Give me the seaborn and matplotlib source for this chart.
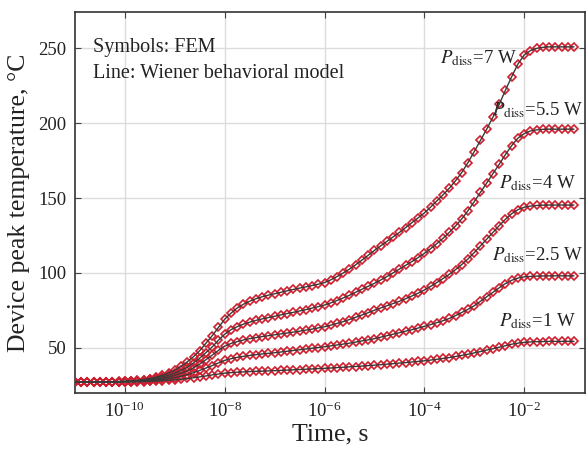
import numpy as np
import pandas as pd
import matplotlib
matplotlib.use("Agg")
import matplotlib.pyplot as plt
import seaborn as sns
from matplotlib.ticker import FixedLocator, NullLocator, LogFormatterMathtext

# ---- data ----
log_time = [-11.0,
            -10.875, -10.75, -10.625, -10.5, -10.375, -10.25, -10.125, -10.0,
            -9.875, -9.75, -9.625, -9.5, -9.375, -9.25, -9.125, -9.0,
            -8.875, -8.75, -8.625, -8.5, -8.375, -8.25, -8.125, -8.0,
            -7.875, -7.75, -7.625, -7.5, -7.375, -7.25, -7.125, -7.0,
            -6.875, -6.75, -6.625, -6.5, -6.375, -6.25, -6.125, -6.0,
            -5.875, -5.75, -5.625, -5.5, -5.375, -5.25, -5.125, -5.0,
            -4.875, -4.75, -4.625, -4.5, -4.375, -4.25, -4.125, -4.0,
            -3.875, -3.75, -3.625, -3.5, -3.375, -3.25, -3.125, -3.0,
            -2.875, -2.75, -2.625, -2.5, -2.375, -2.25, -2.125, -2.0,
            -1.875, -1.75, -1.625, -1.5, -1.375, -1.25, -1.125, -1.0]

temp_7w = [27.0,
           27.0, 27.0, 27.0, 27.1, 27.2, 27.3, 27.4, 27.6,
           27.9, 28.2, 28.7, 29.3, 30.3, 31.5, 33.1, 35.0,
           37.6, 40.5, 44.0, 48.0, 53.0, 58.0, 63.5, 69.0,
           73.0, 76.5, 79.0, 81.0, 82.7, 84.0, 85.1, 86.0,
           87.0, 88.0, 88.9, 89.8, 90.6, 91.5, 92.4, 93.5,
           95.3, 97.5, 99.9, 102.5, 105.4, 108.5, 111.7, 115.0,
           118.0, 121.0, 124.0, 127.0, 130.2, 133.5, 136.7, 140.0,
           143.9, 148.0, 152.1, 156.5, 161.5, 167.0, 173.7, 181.0,
           188.5, 196.0, 204.0, 212.5, 222.0, 231.0, 239.5, 245.5,
           248.5, 250.0, 250.7, 251.0, 251.0, 251.0, 251.0, 251.0]

temp_5p5w = [27.0,
             27.0, 27.0, 27.0, 27.1, 27.1, 27.2, 27.3, 27.5,
             27.7, 28.0, 28.4, 28.9, 29.6, 30.5, 31.6, 33.0,
             34.8, 37.0, 39.8, 43.0, 46.7, 50.5, 55.0, 59.0,
             62.0, 64.0, 65.7, 67.0, 68.2, 69.2, 70.1, 71.0,
             71.9, 72.8, 73.6, 74.5, 75.4, 76.4, 77.4, 78.5,
             79.9, 81.5, 83.2, 85.0, 87.0, 89.0, 91.0, 93.0,
             95.2, 97.5, 100.0, 102.5, 105.0, 107.5, 110.2, 113.0,
             116.1, 119.5, 123.1, 127.0, 131.3, 136.0, 141.5, 147.5,
             153.8, 160.0, 166.3, 172.5, 179.0, 185.0, 190.0, 193.0,
             194.8, 195.5, 195.9, 196.0, 196.0, 196.0, 196.0, 196.0]

temp_4w = [27.0,
           27.0, 27.0, 27.0, 27.0, 27.0, 27.1, 27.2, 27.3,
           27.5, 27.7, 28.0, 28.4, 28.9, 29.6, 30.4, 31.5,
           32.9, 34.5, 36.5, 39.0, 42.0, 45.0, 48.2, 51.0,
           52.8, 54.0, 55.1, 56.0, 56.7, 57.4, 58.0, 58.6,
           59.2, 59.8, 60.4, 61.0, 61.7, 62.4, 63.2, 64.0,
           65.0, 66.2, 67.4, 68.8, 70.3, 71.8, 73.4, 75.0,
           76.5, 78.0, 79.5, 81.0, 82.7, 84.5, 86.4, 88.5,
           90.9, 93.5, 96.2, 99.0, 102.1, 105.5, 109.3, 113.5,
           118.0, 122.5, 127.0, 131.5, 135.8, 139.5, 142.2, 143.8,
           144.6, 145.0, 145.2, 145.3, 145.3, 145.3, 145.3, 145.3]

temp_2p5w = [27.0,
             27.0, 27.0, 27.0, 27.0, 27.0, 27.0, 27.1, 27.2,
             27.3, 27.5, 27.7, 28.0, 28.4, 28.8, 29.3, 30.0,
             30.9, 32.0, 33.3, 34.8, 36.4, 38.0, 39.8, 41.5,
             42.6, 43.5, 44.2, 44.8, 45.3, 45.8, 46.2, 46.6,
             47.1, 47.6, 48.1, 48.6, 49.1, 49.6, 50.1, 50.6,
             51.2, 51.8, 52.4, 53.0, 53.7, 54.5, 55.2, 56.0,
             57.0, 58.0, 59.0, 60.0, 61.0, 62.0, 63.1, 64.2,
             65.4, 66.7, 68.0, 69.5, 71.4, 73.5, 75.6, 78.0,
             81.0, 84.0, 87.0, 90.0, 92.8, 95.0, 96.5, 97.3,
             97.6, 97.8, 97.9, 98.0, 98.0, 98.0, 98.0, 98.0]

temp_1w = [27.0,
           27.0, 27.0, 27.0, 27.0, 27.0, 27.0, 27.0, 27.1,
           27.1, 27.2, 27.3, 27.5, 27.7, 27.9, 28.2, 28.5,
           28.9, 29.4, 29.9, 30.5, 31.1, 31.8, 32.4, 33.0,
           33.3, 33.6, 33.8, 34.0, 34.2, 34.3, 34.5, 34.6,
           34.8, 35.0, 35.2, 35.4, 35.6, 35.8, 36.0, 36.2,
           36.4, 36.7, 36.9, 37.2, 37.4, 37.7, 38.0, 38.3,
           38.6, 39.0, 39.3, 39.7, 40.0, 40.4, 40.8, 41.2,
           41.7, 42.2, 42.8, 43.4, 44.1, 44.8, 45.6, 46.5,
           47.4, 48.4, 49.3, 50.3, 51.3, 52.3, 53.0, 53.5,
           53.8, 54.0, 54.1, 54.2, 54.2, 54.2, 54.2, 54.2]

power_labels = ["7 W", "5.5 W", "4 W", "2.5 W", "1 W"]
series = [temp_7w, temp_5p5w, temp_4w, temp_2p5w, temp_1w]

# ---- styling ----
sns.set_style("ticks")
plt.rcParams["font.family"] = ["Liberation Serif", "DejaVu Serif"]
plt.rcParams["mathtext.fontset"] = "stix"

red = "#cc1f2f"
line_col = "#3a3a3a"

frames = []
for lab, vals in zip(power_labels, series):
    frames.append(pd.DataFrame({"time": 10.0 ** np.array(log_time),
                                "temp": vals, "power": lab}))
df = pd.concat(frames, ignore_index=True)

fig = plt.figure(figsize=(5.87, 4.49), dpi=100)
ax = fig.add_axes([75 / 587, 56 / 449, 510 / 587, 381.3 / 449])

sns.lineplot(data=df, x="time", y="temp", units="power", estimator=None,
             sort=False, color=red, linestyle="none", marker="D",
             markersize=4.3, markerfacecolor="none", markeredgecolor=red,
             markeredgewidth=1.2, ax=ax, legend=False, zorder=3)
sns.lineplot(data=df, x="time", y="temp", units="power", estimator=None,
             sort=False, color=line_col, linewidth=1.0, ax=ax,
             legend=False, zorder=4)

ax.set_xscale("log")
ax.set_xlim(1e-11, 10 ** -0.78)
ax.set_ylim(19.7, 274.5)
ax.xaxis.set_major_locator(FixedLocator([1e-10, 1e-8, 1e-6, 1e-4, 1e-2]))
ax.xaxis.set_minor_locator(NullLocator())
ax.xaxis.set_major_formatter(LogFormatterMathtext())
ax.set_yticks([50, 100, 150, 200, 250])
ax.grid(True, color="#dcdcdc", linewidth=1.0, zorder=0)
ax.set_axisbelow(True)
ax.tick_params(direction="in", top=True, right=True, labelsize=13.5,
               length=4, width=0.8, color="#444444", labelcolor="#222222",
               pad=6)
for sp in ax.spines.values():
    sp.set_color("#333333")
    sp.set_linewidth(1.2)

ax.set_xlabel("Time, s", fontsize=18.5, color="#222222", labelpad=2)
ax.set_ylabel("Device peak temperature, °C", fontsize=18.5,
              color="#222222", labelpad=6)

ax.text(0.035, 0.895, "Symbols: FEM", transform=ax.transAxes,
        fontsize=14.5, va="baseline", color="#222222")
ax.text(0.035, 0.825, "Line: Wiener behavioral model", transform=ax.transAxes,
        fontsize=14.5, va="baseline", color="#222222")

# right edges of the labels (log10 time) and baselines (deg C)
label_pos = [(10 ** -2.142, 240.0), (10 ** -0.82, 205.4),
             (10 ** -0.95, 156.5), (10 ** -0.82, 108.6),
             (10 ** -0.95, 64.1)]
for lab, (xp, yp) in zip(power_labels, label_pos):
    ax.text(xp, yp, r"$P_{\mathrm{diss}}$=" + lab, fontsize=13.5,
            va="baseline", ha="right", color="#222222", clip_on=False)

fig.savefig("out.png", dpi=100)
